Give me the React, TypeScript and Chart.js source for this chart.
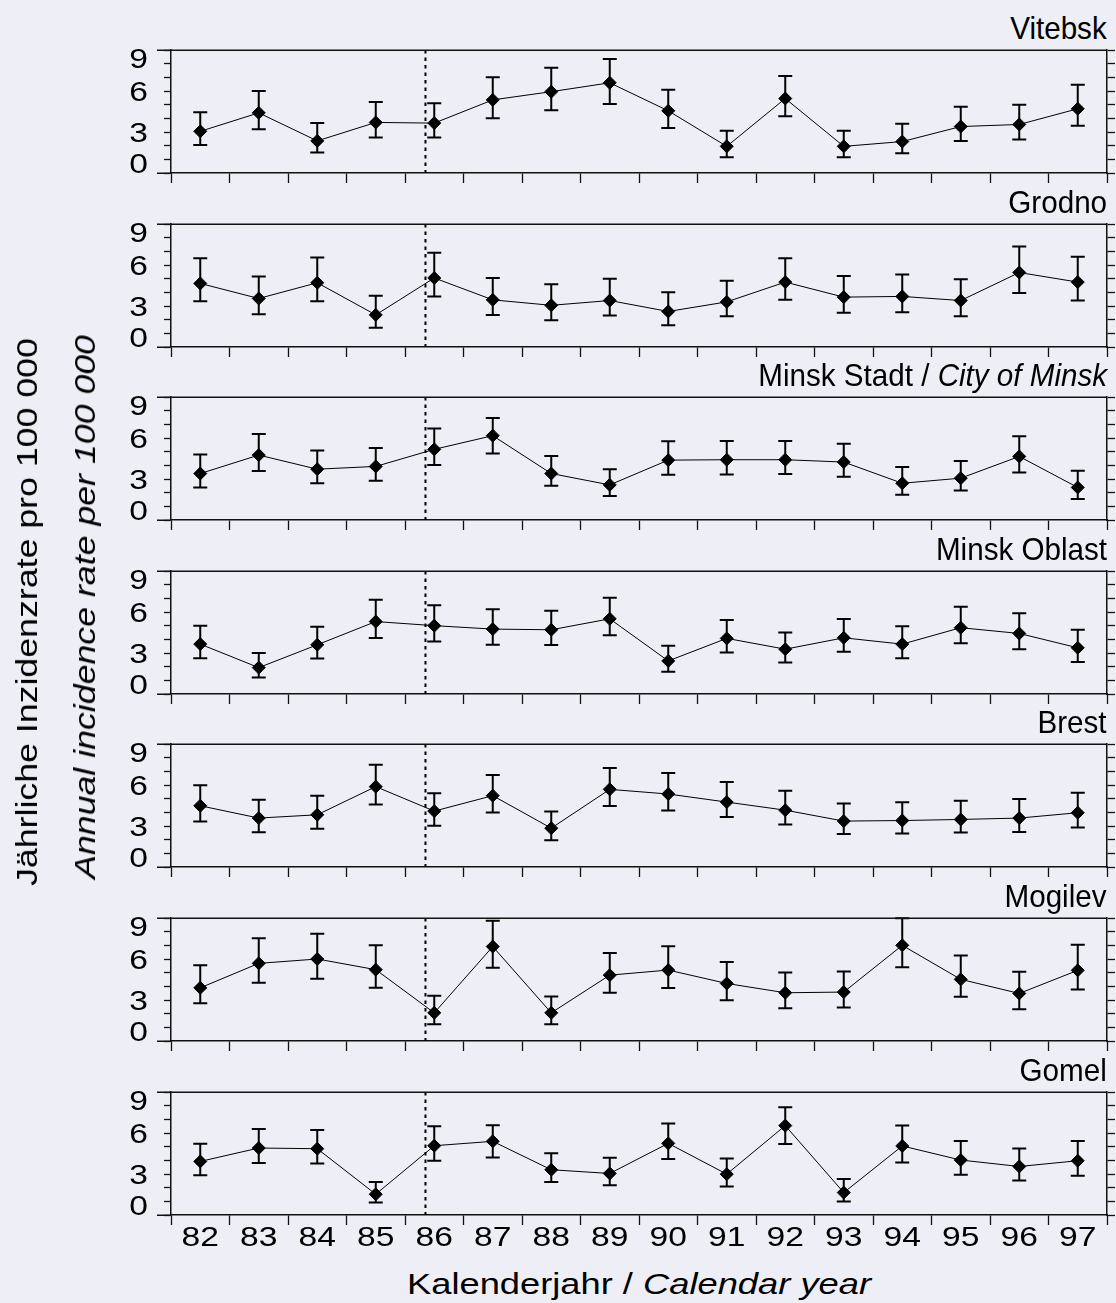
import React, { useEffect, useRef } from 'react';
import { Chart, registerables } from 'chart.js';

Chart.register(...registerables);

const YEARS = ['82', '83', '84', '85', '86', '87', '88', '89', '90', '91', '92', '93', '94', '95', '96', '97'];
const FIRST_YEAR = 82;
const ACCIDENT_YEAR = 86.35;
const Y_TICK_LABELS = [0, 3, 6, 9];
const Y_MIN = 0;
const Y_MAX = 9;

const VITEBSK = [3.05, 4.4, 2.35, 3.7, 3.65, 5.35, 5.95, 6.6, 4.55, 1.95, 5.45, 1.95, 2.3, 3.4, 3.55, 4.7];
const VITEBSK_HI = [4.45, 6.0, 3.65, 5.2, 5.1, 7.0, 7.7, 8.35, 6.1, 3.1, 7.1, 3.1, 3.6, 4.85, 5.0, 6.45];
const VITEBSK_LO = [2.05, 3.2, 1.5, 2.6, 2.6, 4.0, 4.6, 5.05, 3.3, 1.15, 4.15, 1.15, 1.45, 2.35, 2.45, 3.45];

const GRODNO = [4.65, 3.55, 4.7, 2.35, 5.05, 3.45, 3.05, 3.4, 2.6, 3.3, 4.75, 3.65, 3.7, 3.4, 5.45, 4.75];
const GRODNO_HI = [6.5, 5.15, 6.55, 3.75, 6.9, 5.05, 4.6, 5.0, 4.0, 4.85, 6.5, 5.2, 5.3, 4.95, 7.35, 6.6];
const GRODNO_LO = [3.35, 2.4, 3.35, 1.4, 3.7, 2.35, 1.95, 2.3, 1.6, 2.25, 3.45, 2.5, 2.55, 2.25, 3.95, 3.4];

const MINSK_CITY = [3.4, 4.75, 3.72, 3.92, 5.17, 6.17, 3.4, 2.57, 4.38, 4.41, 4.41, 4.24, 2.69, 3.06, 4.65, 2.38];
const MINSK_CITY_HI = [4.8, 6.29, 5.09, 5.27, 6.69, 7.47, 4.68, 3.72, 5.76, 5.78, 5.78, 5.58, 3.87, 4.31, 6.12, 3.6];
const MINSK_CITY_LO = [2.38, 3.58, 2.69, 2.87, 4.02, 4.87, 2.5, 1.76, 3.31, 3.33, 3.36, 3.16, 1.84, 2.16, 3.48, 1.54];

const MINSK_OBLAST = [3.65, 1.93, 3.6, 5.3, 5.0, 4.75, 4.7, 5.5, 2.42, 4.07, 3.28, 4.11, 3.65, 4.85, 4.43, 3.38];
const MINSK_OBLAST_HI = [5.0, 3.0, 4.92, 6.9, 6.5, 6.2, 6.1, 7.05, 3.53, 5.41, 4.5, 5.49, 4.95, 6.39, 5.9, 4.7];
const MINSK_OBLAST_LO = [2.62, 1.2, 2.6, 4.1, 3.85, 3.6, 3.58, 4.3, 1.62, 3.04, 2.3, 3.09, 2.62, 3.72, 3.28, 2.35];

const BREST = [4.48, 3.58, 3.82, 5.88, 4.09, 5.22, 2.84, 5.68, 5.34, 4.75, 4.16, 3.36, 3.4, 3.48, 3.58, 3.97];
const BREST_HI = [5.98, 4.92, 5.22, 7.49, 5.39, 6.74, 4.07, 7.25, 6.88, 6.22, 5.58, 4.65, 4.73, 4.85, 4.97, 5.44];
const BREST_LO = [3.33, 2.55, 2.79, 4.58, 3.01, 3.99, 1.96, 4.46, 4.14, 3.65, 3.11, 2.42, 2.45, 2.52, 2.57, 2.89];

const MOGILEV = [3.89, 5.68, 6.0, 5.22, 2.06, 6.91, 2.06, 4.82, 5.19, 4.21, 3.53, 3.58, 7.0, 4.51, 3.48, 5.17];
const MOGILEV_HI = [5.54, 7.52, 7.84, 7.0, 3.31, 8.79, 3.26, 6.44, 6.93, 5.78, 5.02, 5.09, 8.99, 6.25, 5.07, 7.05];
const MOGILEV_LO = [2.77, 4.26, 4.56, 3.89, 1.22, 5.36, 1.22, 3.53, 3.87, 2.99, 2.4, 2.45, 5.39, 3.23, 2.33, 3.77];

const GOMEL = [3.92, 4.9, 4.85, 1.52, 5.07, 5.39, 3.31, 3.04, 5.24, 2.99, 6.54, 1.64, 5.05, 4.02, 3.55, 3.97];
const GOMEL_HI = [5.22, 6.29, 6.22, 2.42, 6.49, 6.56, 4.51, 4.19, 6.69, 4.14, 7.89, 2.64, 6.54, 5.41, 4.87, 5.41];
const GOMEL_LO = [2.91, 3.8, 3.77, 0.91, 3.97, 4.21, 2.42, 2.18, 4.09, 2.08, 5.19, 0.98, 3.85, 2.94, 2.52, 2.87];

const PANELS = [
  { title: 'Vitebsk', italic: '', values: VITEBSK, hi: VITEBSK_HI, lo: VITEBSK_LO },
  { title: 'Grodno', italic: '', values: GRODNO, hi: GRODNO_HI, lo: GRODNO_LO },
  { title: 'Minsk Stadt / ', italic: 'City of Minsk', values: MINSK_CITY, hi: MINSK_CITY_HI, lo: MINSK_CITY_LO },
  { title: 'Minsk Oblast', italic: '', values: MINSK_OBLAST, hi: MINSK_OBLAST_HI, lo: MINSK_OBLAST_LO },
  { title: 'Brest', italic: '', values: BREST, hi: BREST_HI, lo: BREST_LO },
  { title: 'Mogilev', italic: '', values: MOGILEV, hi: MOGILEV_HI, lo: MOGILEV_LO },
  { title: 'Gomel', italic: '', values: GOMEL, hi: GOMEL_HI, lo: GOMEL_LO },
];

const W = 1116;
const H = 1303;
const AREA_LEFT = 171;
const AREA_RIGHT = 1107;
const FIRST_TOP = 50;
const PITCH = 173.6;
const AREA_H = 123;
const BG = 'rgb(238,238,246)';
const FONT = '"Liberation Sans", Arial, sans-serif';
const STRETCH = 1.2;

function Panel({ values, hi, lo, showLabels, top, height }: any) {
  const ref = useRef<HTMLCanvasElement>(null);
  useEffect(() => {
    const canvas = ref.current!;
    const decor = {
      id: 'decor',
      beforeDatasetsDraw(chart: any) {
        const { ctx, chartArea: a, scales } = chart;
        const x = scales.x;
        const y = scales.y;
        ctx.save();
        const dx = x.getPixelForValue(ACCIDENT_YEAR - FIRST_YEAR - 0.5);
        ctx.strokeStyle = '#000';
        ctx.lineWidth = 2;
        ctx.setLineDash([3.5, 4]);
        ctx.beginPath();
        ctx.moveTo(dx, a.top);
        ctx.lineTo(dx, a.bottom);
        ctx.stroke();
        ctx.setLineDash([]);
        ctx.lineWidth = 2;
        for (let i = 0; i < values.length; i++) {
          const px = x.getPixelForValue(i);
          const yl = y.getPixelForValue(lo[i]);
          const yu = y.getPixelForValue(hi[i]);
          ctx.beginPath();
          ctx.moveTo(px, yl);
          ctx.lineTo(px, yu);
          ctx.moveTo(px - 7, yl);
          ctx.lineTo(px + 7, yl);
          ctx.moveTo(px - 7, yu);
          ctx.lineTo(px + 7, yu);
          ctx.stroke();
        }
        ctx.restore();
      },
      afterDraw(chart: any) {
        const { ctx, chartArea: a, scales } = chart;
        const x = scales.x;
        const y = scales.y;
        ctx.save();
        ctx.strokeStyle = '#111';
        ctx.lineWidth = 1.5;
        ctx.beginPath();
        ctx.moveTo(a.left - 14, Math.round(a.top) + 0.25);
        ctx.lineTo(a.right, Math.round(a.top) + 0.25);
        ctx.moveTo(a.left - 14, Math.round(a.bottom) + 0.25);
        ctx.lineTo(a.left, Math.round(a.bottom) + 0.25);
        ctx.stroke();
        ctx.fillStyle = '#000';
        ctx.font = '28px ' + FONT;
        ctx.textBaseline = 'alphabetic';
        ctx.textAlign = 'right';
        Y_TICK_LABELS.forEach((v) => {
          const py = y.getPixelForValue(v);
          const base = Math.min(Math.max(py + 10, a.top + 18), a.bottom);
          ctx.save();
          ctx.translate(a.left - 23, base);
          ctx.scale(STRETCH, 1);
          ctx.fillText(String(v), 0, 0);
          ctx.restore();
        });
        if (showLabels) {
          ctx.textAlign = 'center';
          YEARS.forEach((lab, i) => {
            const px = x.getPixelForValue(i);
            ctx.save();
            ctx.translate(px, a.bottom + 31);
            ctx.scale(STRETCH, 1);
            ctx.fillText(lab, 0, 0);
            ctx.restore();
          });
        }
        ctx.restore();
      },
    };
    const axisGrid = (len: number) => ({
      drawOnChartArea: false,
      drawTicks: true,
      tickLength: len,
      tickColor: '#111',
      tickWidth: 1.3,
    });
    const chart = new Chart(canvas, {
      type: 'line',
      data: {
        labels: YEARS,
        datasets: [
          {
            data: values,
            borderColor: '#000',
            borderWidth: 1,
            tension: 0,
            pointStyle: 'rectRot',
            pointRadius: 6.5,
            pointBackgroundColor: '#000',
            pointBorderColor: '#000',
            pointBorderWidth: 1,
            clip: false,
            yAxisID: 'y',
          } as any,
        ],
      },
      options: {
        animation: false,
        responsive: false,
        events: [],
        layout: {
          padding: { left: AREA_LEFT, right: W - AREA_RIGHT, top: 50, bottom: height - 50 - AREA_H },
        },
        plugins: { legend: { display: false }, tooltip: { enabled: false }, title: { display: false } },
        scales: {
          x: {
            type: 'category',
            offset: true,
            grid: { ...axisGrid(10), offset: true },
            border: { display: true, color: '#111', width: 1.5 },
            ticks: { display: false, autoSkip: false },
            afterFit: (s: any) => { s.height = 0; },
          },
          y: {
            type: 'linear',
            position: 'left',
            min: Y_MIN,
            max: Y_MAX,
            ticks: { display: false, stepSize: 1 },
            grid: axisGrid(7),
            border: { display: true, color: '#111', width: 1.5 },
            afterFit: (s: any) => { s.width = 0; },
          },
          y2: {
            type: 'linear',
            position: 'right',
            min: Y_MIN,
            max: Y_MAX,
            ticks: { display: false, stepSize: 1 },
            grid: axisGrid(8),
            border: { display: true, color: '#111', width: 1.5 },
            afterFit: (s: any) => { s.width = 0; },
          },
        },
      } as any,
      plugins: [decor],
    });
    return () => chart.destroy();
  }, []);
  return (
    <canvas
      ref={ref}
      width={W}
      height={height}
      style={{ position: 'absolute', left: 0, top, width: W, height, display: 'block' }}
    />
  );
}

export default function App() {
  return (
    <div style={{ position: 'absolute', left: 0, top: 0, width: W, height: H, background: BG, overflow: 'hidden', fontFamily: FONT, color: '#000' }}>
      {PANELS.map((p, i) => {
        const areaTop = Math.round(FIRST_TOP + i * PITCH);
        const last = i === PANELS.length - 1;
        const ch = last ? 215 : 200;
        return (
          <React.Fragment key={p.title}>
            <div
              style={{
                position: 'absolute',
                right: W - AREA_RIGHT,
                top: areaTop - 37,
                fontSize: 31.5,
                lineHeight: '31px',
                whiteSpace: 'nowrap',
                transform: 'scaleX(0.94)',
                transformOrigin: 'right center',
              }}
            >
              {p.title}
              {p.italic ? <i>{p.italic}</i> : null}
            </div>
            <Panel values={p.values} hi={p.hi} lo={p.lo} showLabels={last} top={areaTop - 50} height={ch} />
          </React.Fragment>
        );
      })}
      <div
        style={{
          position: 'absolute',
          left: 27,
          top: 612,
          transform: 'translate(-50%, -50%) rotate(-90deg) scaleX(1.19)',
          fontSize: 30,
          lineHeight: '30px',
          whiteSpace: 'nowrap',
        }}
      >
        Jährliche Inzidenzrate pro 100 000
      </div>
      <div
        style={{
          position: 'absolute',
          left: 85,
          top: 607,
          transform: 'translate(-50%, -50%) rotate(-90deg) scaleX(1.19)',
          fontSize: 30,
          lineHeight: '30px',
          whiteSpace: 'nowrap',
          fontStyle: 'italic',
        }}
      >
        Annual incidence rate per 100 000
      </div>
      <div
        style={{
          position: 'absolute',
          left: (AREA_LEFT + AREA_RIGHT) / 2,
          top: 1269,
          transform: 'translateX(-50%) scaleX(1.23)',
          fontSize: 29.5,
          lineHeight: '30px',
          whiteSpace: 'nowrap',
        }}
      >
        Kalenderjahr / <i>Calendar year</i>
      </div>
    </div>
  );
}
